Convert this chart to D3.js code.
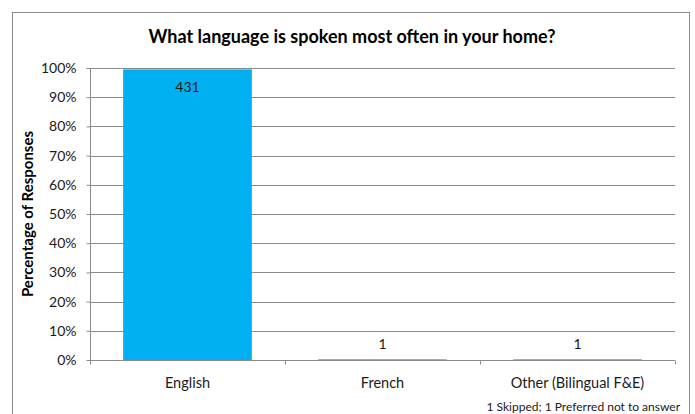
<!DOCTYPE html>
<html>
<head>
<meta charset="utf-8">
<script src="https://cdn.jsdelivr.net/npm/d3@7"></script>
<style>
  html, body { margin: 0; padding: 0; background: #fff; }
  svg { display: block; font-family: Lato, "Open Sans", sans-serif; }
</style>
</head>
<body>
<svg id="chart" width="695" height="414"></svg>
<script>
// Survey answers: "What language is spoken most often in your home?"
const categories = ["English", "French", "Other (Bilingual F&E)"];
const counts = [431, 1, 1];
const yTicks = [0, 0.1, 0.2, 0.3, 0.4, 0.5, 0.6, 0.7, 0.8, 0.9, 1.0];
const titleText = "What language is spoken most often in your home?";
const yTitle = "Percentage of Responses";
const footnote = "1 Skipped; 1 Preferred not to answer";

const total = d3.sum(counts);
const shares = counts.map(c => c / total);

const svg = d3.select("#chart");
const plot = { left: 90, right: 675, top: 68, bottom: 360 };
const gridColor = "#8c8c8c";
const textColor = "#1a1a1a";

// outer chart frame
svg.append("rect")
  .attr("x", 12.5).attr("y", 12.5)
  .attr("width", 677).attr("height", 420)
  .attr("fill", "none").attr("stroke", gridColor).attr("stroke-width", 1);

const x = d3.scaleBand()
  .domain(categories)
  .range([plot.left, plot.right])
  .paddingInner(0.34)
  .paddingOuter(0.17);

const y = d3.scaleLinear().domain([0, 1]).range([plot.bottom, plot.top]);

// horizontal gridlines
svg.append("g")
  .selectAll("line")
  .data(yTicks.filter(t => t > 0))
  .join("line")
  .attr("x1", plot.left).attr("x2", plot.right)
  .attr("y1", d => Math.round(y(d)) + 0.5).attr("y2", d => Math.round(y(d)) + 0.5)
  .attr("stroke", gridColor).attr("stroke-width", 1);

// bars
svg.append("g")
  .selectAll("rect")
  .data(categories)
  .join("rect")
  .attr("x", d => x(d))
  .attr("width", x.bandwidth())
  .attr("y", (d, i) => y(shares[i]))
  .attr("height", (d, i) => plot.bottom - y(shares[i]))
  .attr("fill", "#00b0f0");

// y axis
const yAxis = d3.axisLeft(y)
  .tickValues(yTicks)
  .tickFormat(d3.format(".0%"))
  .tickSize(4)
  .tickPadding(10);

const gy = svg.append("g")
  .attr("transform", `translate(${plot.left + 0.5},0)`)
  .call(yAxis);
gy.selectAll("path.domain").attr("stroke", gridColor).attr("d", `M0,${plot.top}V${plot.bottom}`);
gy.selectAll(".tick line").attr("stroke", gridColor);
gy.selectAll(".tick text")
  .attr("fill", textColor)
  .style("font-size", "14px")
  .style("font-family", "Lato, sans-serif");

// x axis with boundary ticks between categories
const gx = svg.append("g").attr("transform", `translate(0,${plot.bottom + 0.5})`);
gx.append("line")
  .attr("x1", plot.left).attr("x2", plot.right)
  .attr("stroke", gridColor);
const boundaries = d3.range(categories.length + 1)
  .map(i => plot.left + i * (plot.right - plot.left) / categories.length);
gx.selectAll("line.tk")
  .data(boundaries)
  .join("line")
  .attr("class", "tk")
  .attr("x1", d => Math.round(d) + 0.5).attr("x2", d => Math.round(d) + 0.5)
  .attr("y1", 0).attr("y2", 4)
  .attr("stroke", gridColor);
gx.selectAll("text")
  .data(categories)
  .join("text")
  .attr("x", d => x(d) + x.bandwidth() / 2)
  .attr("y", 27)
  .attr("text-anchor", "middle")
  .attr("fill", textColor)
  .style("font-size", "14.5px")
  .text(d => d);

// value labels
svg.append("g")
  .selectAll("text")
  .data(categories)
  .join("text")
  .attr("x", d => x(d) + x.bandwidth() / 2)
  .attr("y", (d, i) => shares[i] > 0.5 ? y(shares[i]) + 23 : y(shares[i]) - 10)
  .attr("text-anchor", "middle")
  .attr("fill", textColor)
  .style("font-size", "14px")
  .text((d, i) => counts[i]);

// title
svg.append("text")
  .attr("x", 352).attr("y", 43)
  .attr("text-anchor", "middle")
  .attr("fill", "#000")
  .style("font-size", "18px")
  .style("font-weight", "bold")
  .text(titleText);

// y axis title
svg.append("text")
  .attr("transform", `translate(33,${(plot.top + plot.bottom) / 2}) rotate(-90)`)
  .attr("text-anchor", "middle")
  .attr("fill", "#000")
  .style("font-size", "15px")
  .style("font-weight", "bold")
  .text(yTitle);

// footnote
svg.append("text")
  .attr("x", 680).attr("y", 411)
  .attr("text-anchor", "end")
  .attr("fill", textColor)
  .style("font-size", "12px")
  .text(footnote);
</script>
</body>
</html>
